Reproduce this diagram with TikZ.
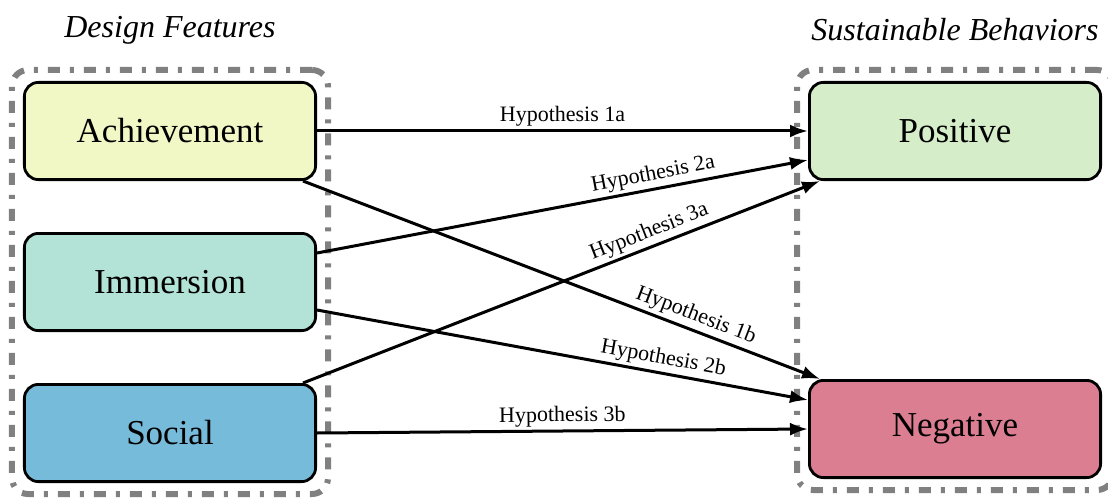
\documentclass[tikz,border=0pt]{standalone}
\usepackage{fontspec}
\setmainfont{Liberation Serif}
\usetikzlibrary{positioning,arrows.meta,fit}
\definecolor{achfill}{HTML}{F1F8C6}
\definecolor{immfill}{HTML}{B3E2D6}
\definecolor{socfill}{HTML}{76BBDA}
\definecolor{posfill}{HTML}{D5EDC8}
\definecolor{negfill}{HTML}{DB7E91}
\definecolor{groupgray}{HTML}{808080}
\tikzset{%
feature/.style={draw,fill=#1,rounded corners=7pt,line width=1.4pt,minimum width=145.6pt,minimum height=48.6pt,font=\fontsize{17.5}{20}\selectfont},
group/.style={draw=groupgray,line width=3pt,rounded corners=8pt,dash pattern=on 6pt off 5pt on 2pt off 5pt,inner sep=5.5pt},
grouptitle/.style={font=\itshape\fontsize{16}{18}\selectfont,anchor=base},
hyp/.style={line width=1.5pt,-{Latex[length=9pt,width=6.5pt]}},
hyplabel/.style={font=\fontsize{11}{13}\selectfont,sloped,above,inner sep=1.5pt}
}
\begin{document}
\begin{tikzpicture}

    \node[feature=achfill] (ach) {Achievement};
    \node[feature=immfill,below=25.5pt of ach] (imm) {Immersion};
    \node[feature=socfill,below=25.5pt of imm] (soc) {Social};
    \node[feature=posfill,right=245.5pt of ach] (pos) {Positive};
    \node[feature=negfill,below=99pt of pos] (neg) {Negative};

    \useasboundingbox ([xshift=-85pt,yshift=65.5pt]ach.center) rectangle ++(554pt,-249pt);

    \node[group,fit=(ach)(soc)] (design) {};
    \node[group,fit=(pos)(neg)] (behav) {};
    \node[grouptitle] at ([yshift=14.5pt]design.north) {Design Features};
    \node[grouptitle] at ([yshift=13pt]behav.north) {Sustainable Behaviors};

    \draw[hyp] (ach.east) -- node[hyplabel] {Hypothesis 1a} (pos.west);
    \draw[hyp] ([yshift=14.5pt]imm.east) -- node[hyplabel,pos=0.69] {Hypothesis 2a} ([yshift=-14.5pt]pos.west);
    \draw[hyp] ([xshift=-7pt]soc.north east) -- node[hyplabel,pos=0.68] {Hypothesis 3a} ([xshift=6pt]pos.south west);
    \draw[hyp] ([xshift=-7pt]ach.south east) -- node[hyplabel,pos=0.75] {Hypothesis 1b} ([xshift=6pt]neg.north west);
    \draw[hyp] ([yshift=-14pt]imm.east) -- node[hyplabel,pos=0.7] {Hypothesis 2b} ([yshift=14.5pt]neg.west);
    \draw[hyp] (soc.east) -- node[hyplabel] {Hypothesis 3b} (neg.west);

\end{tikzpicture}
\end{document}
